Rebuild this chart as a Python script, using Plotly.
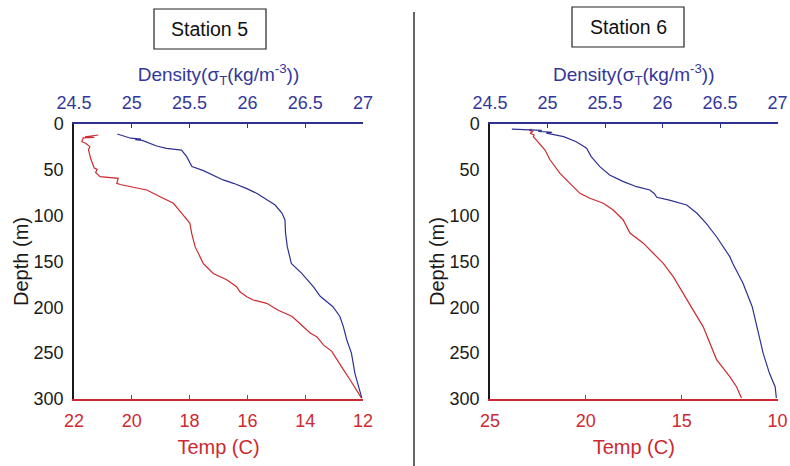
import plotly.graph_objects as go

# ---------------- data ----------------
depth_ticks = [0, 50, 100, 150, 200, 250, 300]
dens_ticks = [24.5, 25, 25.5, 26, 26.5, 27]
dens_ticklabels = ["24.5", "25", "25.5", "26", "26.5", "27"]
temp5_ticks = [22, 20, 18, 16, 14, 12]
temp6_ticks = [25, 20, 15, 10]

# Station 5 density (blue)
s5_dens_depth = [10.9, 13.5, 15.5, 16.5, 17.0, 17.8, 21, 24, 26.5, 28.4, 35.6, 46.5, 50.9, 55.6, 61, 64.7,
                 70.2, 75.6, 82.9, 88.4, 97.4, 104.7, 119, 133.8, 152, 162.9, 177.5, 188, 199.3,
                 210, 221, 235.6, 250, 272, 299]
s5_dens = [24.875, 24.94, 24.99, 25.08, 25.03, 25.09, 25.15, 25.215, 25.30, 25.43, 25.475, 25.52, 25.62,
           25.705, 25.79, 25.88, 25.99, 26.08, 26.17, 26.24, 26.30, 26.325, 26.33, 26.345, 26.38,
           26.47, 26.57, 26.63, 26.74, 26.80, 26.83, 26.86, 26.90, 26.93, 26.99]

# Station 5 temperature (red)
s5_temp_depth = [12, 13, 14, 14.6, 15.2, 15.6, 18, 19.3, 21, 23, 24.7, 28, 31, 38, 43, 48, 49.5, 53,
                 57.5, 58.5, 59.3, 64.7, 66, 69, 72, 79.3, 86.5, 97.4, 108.3, 119, 133.8, 144.7,
                 152, 163, 170, 177.5, 183, 188.4, 192, 195.6, 203, 210, 217.5, 228, 232, 241,
                 248, 257, 268, 279, 299]
s5_temp = [21.16, 21.35, 21.62, 21.3, 21.7, 21.68, 21.72, 21.73, 21.6, 21.5, 21.45, 21.5, 21.48, 21.42,
           21.36, 21.3, 21.2, 21.25, 21.1, 20.8, 20.47, 20.52, 20.4, 19.95, 19.48, 19.02, 18.56,
           18.27, 17.99, 17.93, 17.81, 17.64, 17.53, 17.18, 16.72, 16.37, 16.26, 16.02, 15.8,
           15.33, 14.95, 14.45, 14.18, 13.83, 13.6, 13.37, 13.08, 12.91, 12.68, 12.45, 12.05]

# Station 6 density (blue)
s6_dens_depth = [5.5, 6.5, 7, 8, 9, 10, 13.8, 19.3, 26.5, 35.6, 46.5, 55.6, 62.9, 68.4, 72, 76, 80,
                 83, 88.4, 97.4, 108.3, 123, 144.7, 152, 173.8, 199.3, 221, 250, 272, 286.8, 299]
s6_dens = [24.69, 24.876, 24.95, 24.92, 25.04, 24.99, 25.14, 25.25, 25.34, 25.38, 25.455, 25.54, 25.66,
           25.775, 25.89, 25.93, 25.95, 26.06, 26.21, 26.30, 26.38, 26.47, 26.585, 26.61, 26.70,
           26.78, 26.82, 26.875, 26.93, 26.98, 26.99]

# Station 6 temperature (red)
s6_temp_depth = [5.5, 7, 8, 10, 12, 13.8, 17, 21, 28.4, 39, 53.8, 64.7, 75.6, 81, 86.5, 93.8, 104.7,
                 119, 130, 141, 152, 166.5, 186, 203, 221, 239, 257, 275.6, 286.6, 299]
s6_temp = [22.83, 22.95, 22.75, 22.9, 22.7, 22.74, 22.6, 22.45, 22.13, 21.87, 21.35, 20.83, 20.31,
           19.79, 19.09, 18.57, 18.05, 17.70, 17.0, 16.48, 15.96, 15.44, 14.9, 14.4, 13.88,
           13.53, 13.18, 12.49, 12.14, 11.88]

# ---------------- style ----------------
FONT = "Liberation Sans, Arial, sans-serif"
BLUE = "#2e3192"
BLUE_TXT = "#34379a"
RED = "#cc2a30"
DARK = "#1a1a1a"
TICK_FS = 18
TITLE_FS = 20

W, H = 790, 466
def px(x):
    return x / W
def py(y):
    return 1 - y / H

left_dom = [px(74), px(363)]
right_dom = [px(490), px(777.5)]
y_dom = [py(399), py(124)]

fig = go.Figure()

fig.add_trace(go.Scatter(x=s5_temp, y=s5_temp_depth, xaxis="x", yaxis="y", mode="lines",
                         line=dict(color=RED, width=1.2), showlegend=False))
fig.add_trace(go.Scatter(x=s5_dens, y=s5_dens_depth, xaxis="x2", yaxis="y", mode="lines",
                         line=dict(color=BLUE, width=1.2), showlegend=False))
fig.add_trace(go.Scatter(x=s6_temp, y=s6_temp_depth, xaxis="x3", yaxis="y2", mode="lines",
                         line=dict(color=RED, width=1.2), showlegend=False))
fig.add_trace(go.Scatter(x=s6_dens, y=s6_dens_depth, xaxis="x4", yaxis="y2", mode="lines",
                         line=dict(color=BLUE, width=1.2), showlegend=False))

def temp_axis(dom, rng, ticks, anchor):
    return dict(domain=dom, range=rng, anchor=anchor, side="bottom", automargin=False,
                tickvals=ticks, ticktext=[str(t) for t in ticks],
                ticks="inside", ticklen=4, tickcolor=RED, tickwidth=1,
                showline=True, linecolor=RED, linewidth=1.5, mirror=False,
                showgrid=False, zeroline=False,
                tickfont=dict(family=FONT, size=TICK_FS, color=RED),
                ticklabelstandoff=5,
                title=dict(text="Temp (C)", font=dict(family=FONT, size=TITLE_FS, color=RED), standoff=10))

def dens_axis(dom, overlay, anchor):
    return dict(domain=dom, range=[24.5, 27], anchor=anchor, overlaying=overlay, side="top",
                automargin=False,
                tickvals=dens_ticks, ticktext=dens_ticklabels,
                ticks="inside", ticklen=4, tickcolor=BLUE, tickwidth=1,
                showline=True, linecolor=BLUE, linewidth=1.5,
                showgrid=False, zeroline=False,
                tickfont=dict(family=FONT, size=TICK_FS, color=BLUE_TXT),
                ticklabelstandoff=6,
                title=dict(text="Density(σ<sub>T</sub>(kg/m<sup>-3</sup>))",
                           font=dict(family=FONT, size=19, color=BLUE_TXT), standoff=6))

def depth_axis(dom, anchor):
    return dict(domain=dom, range=[300, 0], anchor=anchor, automargin=False,
                tickvals=depth_ticks, ticktext=[str(t) for t in depth_ticks],
                ticks="", showline=True, linecolor=DARK, linewidth=1.5,
                showgrid=False, zeroline=False,
                tickfont=dict(family=FONT, size=TICK_FS, color=DARK),
                ticklabelstandoff=5,
                title=dict(text="Depth (m)", font=dict(family=FONT, size=TITLE_FS, color=DARK), standoff=0))

fig.update_layout(
    width=W, height=H,
    margin=dict(l=0, r=0, t=0, b=0, autoexpand=False),
    paper_bgcolor="white", plot_bgcolor="white",
    xaxis=temp_axis(left_dom, [22, 12], temp5_ticks, "y"),
    xaxis2=dens_axis(left_dom, "x", "y"),
    xaxis3=temp_axis(right_dom, [25, 10], temp6_ticks, "y2"),
    xaxis4=dens_axis(right_dom, "x3", "y2"),
    yaxis=depth_axis(y_dom, "x"),
    yaxis2=depth_axis(y_dom, "x3"),
)

# station boxes
for label, x0, x1, y0, y1 in [("Station 5", 154, 266, 9, 49), ("Station 6", 572, 684, 7, 47)]:
    fig.add_shape(type="rect", xref="paper", yref="paper",
                  x0=px(x0), x1=px(x1), y0=py(y1), y1=py(y0),
                  line=dict(color="#222222", width=1.2), fillcolor="white")
    fig.add_annotation(text=label, xref="paper", yref="paper",
                       x=px((x0 + x1) / 2), y=py((y0 + y1) / 2),
                       showarrow=False, font=dict(family=FONT, size=19.5, color="#111111"),
                       xanchor="center", yanchor="middle")

# divider line
fig.add_shape(type="line", xref="paper", yref="paper",
              x0=px(414), x1=px(414), y0=0, y1=py(12),
              line=dict(color="#333333", width=1.5))

fig.write_html("out.html", config={"displayModeBar": False},
               post_script="document.body.style.margin='0';document.body.style.overflow='hidden';")
